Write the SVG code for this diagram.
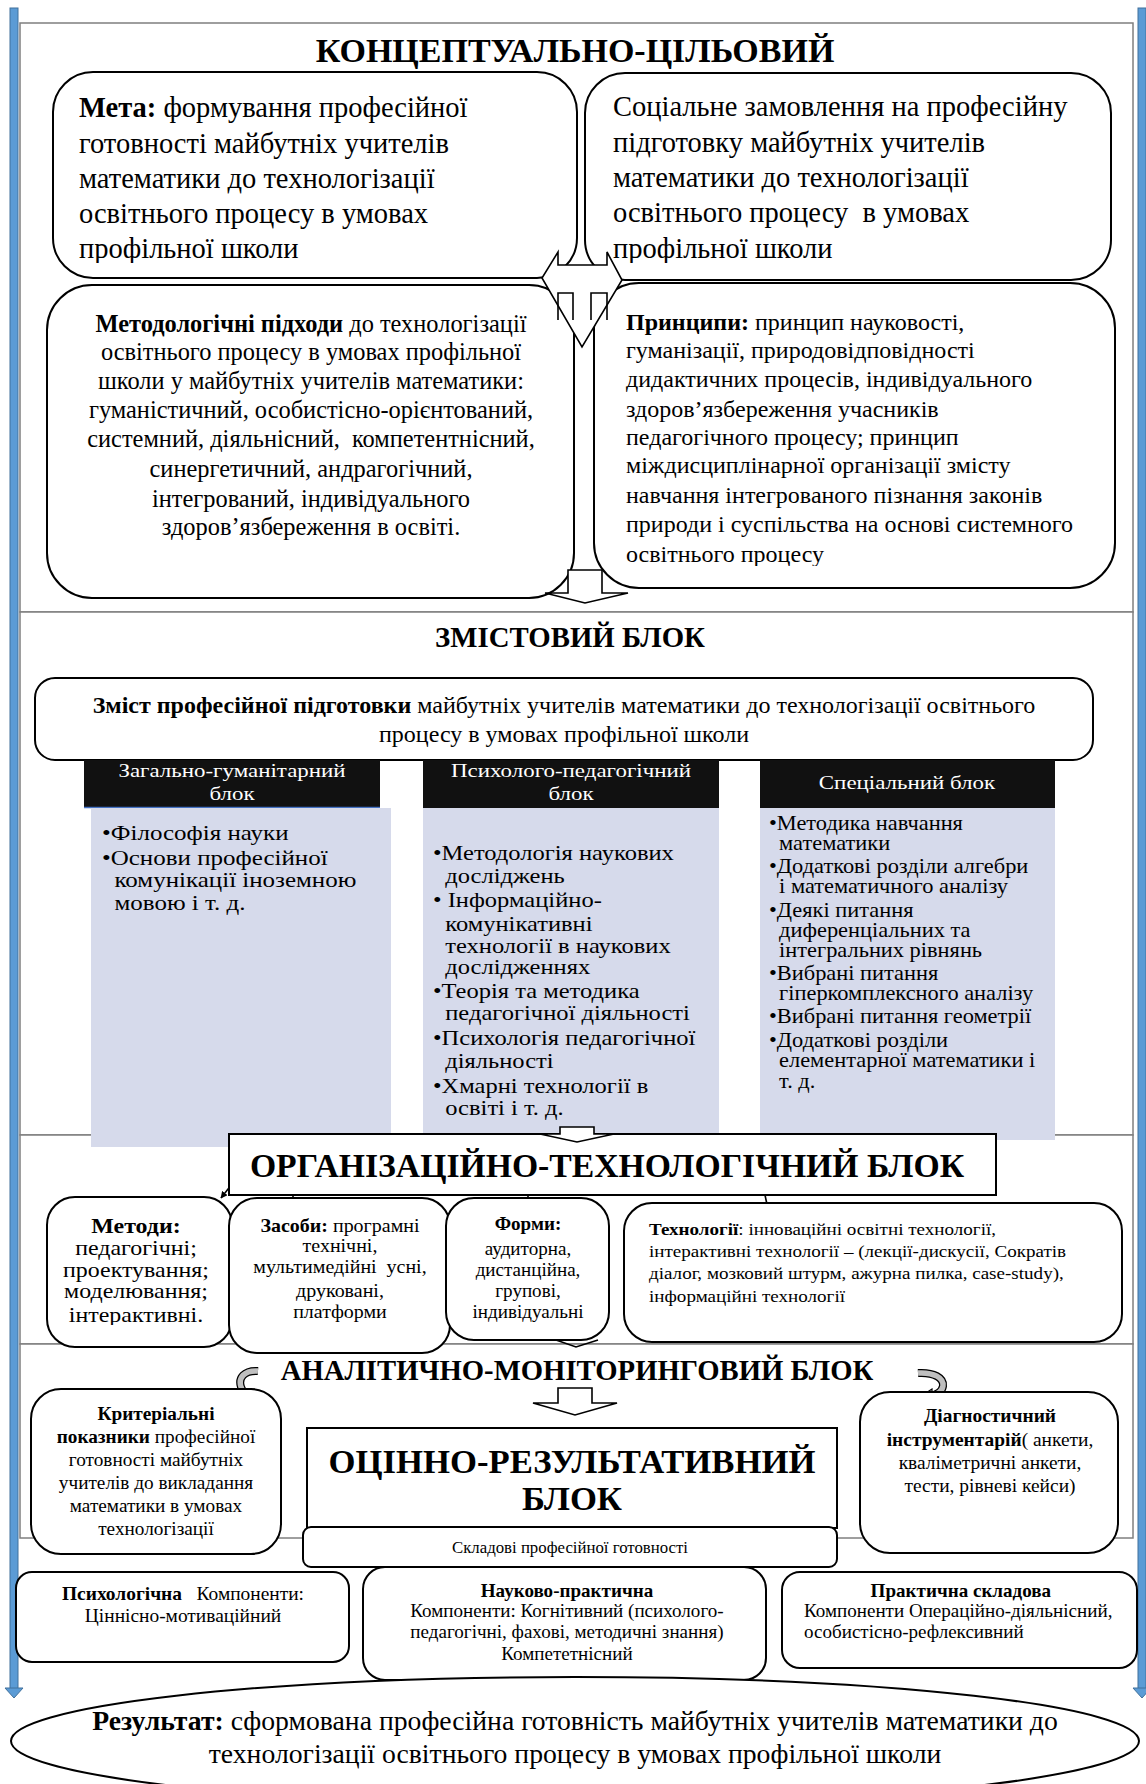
<svg xmlns="http://www.w3.org/2000/svg" width="1146" height="1784" viewBox="0 0 1146 1784">
<style>
text{font-family:"Liberation Serif","Times New Roman",serif;fill:#000}
.b{font-weight:bold}
.m{text-anchor:middle}
.pre{white-space:pre}
.box{fill:#fff;stroke:#000;stroke-width:2}
.sec{fill:#fff;stroke:#7f7f7f;stroke-width:1.5}
.lav{fill:#d6daeb}
.hdr{fill:#111}
.ht{fill:#fff;font-size:18.5px;text-anchor:middle}
.arw{fill:#fff;stroke:#000;stroke-width:1.6;stroke-linejoin:miter}
.ln{stroke:#000;stroke-width:1.6;fill:none}
.bar{fill:#5b9bd5;stroke:#41719c;stroke-width:1}
.f18{font-size:18px}
</style>
<defs>
<marker id="ah" viewBox="0 0 10 10" refX="9" refY="5" markerWidth="7" markerHeight="7" orient="auto" markerUnits="userSpaceOnUse"><path d="M0,0 L10,5 L0,10 z" fill="#000"/></marker>
<clipPath id="cTop"><rect x="40" y="60" width="1080" height="203"/></clipPath>
<clipPath id="cPr"><rect x="594" y="283" width="521" height="283"/></clipPath>
<clipPath id="cMet"><rect x="40" y="1190" width="200" height="135"/></clipPath>
<clipPath id="cKr"><rect x="25" y="1385" width="260" height="154"/></clipPath>
</defs>

<g id="sections">
<rect class="sec" x="20" y="23" width="1113" height="589"/>
<rect class="sec" x="20" y="612" width="1113" height="523"/>
<rect class="sec" x="20" y="1135" width="1113" height="209"/>
<rect class="sec" x="20" y="1344" width="1113" height="194"/>
</g>

<g id="side-arrows">
<rect class="bar" x="10" y="8" width="8" height="1682"/>
<polygon class="bar" points="5,1688 23,1688 14,1698"/>
<rect class="bar" x="1138" y="8" width="8" height="1682"/>
<polygon class="bar" points="1133,1688 1151,1688 1142,1698"/>
</g>

<g id="title-concept"><text class="b m" x="575" y="62" font-size="34">КОНЦЕПТУАЛЬНО-ЦІЛЬОВИЙ</text></g>

<g id="meta">
<rect class="box" x="53" y="72" width="524" height="206" rx="40"/>
<g font-size="28.5" clip-path="url(#cTop)">
<text x="79" y="117"><tspan class="b">Мета:</tspan> формування професійної</text>
<text x="79" y="153">готовності майбутніх учителів</text>
<text x="79" y="188">математики до технологізації</text>
<text x="79" y="223">освітнього процесу в умовах</text>
<text x="79" y="258">профільної школи</text>
</g>
</g>

<g id="social">
<rect class="box" x="585" y="73" width="526" height="207" rx="40"/>
<g font-size="28.5" clip-path="url(#cTop)">
<text x="613" y="116">Соціальне замовлення на професійну</text>
<text x="613" y="152">підготовку майбутніх учителів</text>
<text x="613" y="187">математики до технологізації</text>
<text class="pre" x="613" y="222">освітнього процесу  в умовах</text>
<text x="613" y="258">профільної школи</text>
</g>
</g>

<g id="method">
<rect class="box" x="47" y="285" width="527" height="313" rx="45"/>
<g class="m" font-size="24.4">
<text x="311" y="332"><tspan class="b">Методологічні підходи</tspan> до технологізації</text>
<text x="311" y="360">освітнього процесу в умовах профільної</text>
<text x="311" y="389">школи у майбутніх учителів математики:</text>
<text x="311" y="418">гуманістичний, особистісно-орієнтований,</text>
<text class="pre" x="311" y="447">системний, діяльнісний,  компетентнісний,</text>
<text x="311" y="477">синергетичний, андрагогічний,</text>
<text x="311" y="507">інтегрований, індивідуального</text>
<text x="311" y="535">здоров’язбереження в освіті.</text>
</g>
</g>

<g id="principles">
<rect class="box" x="594" y="283" width="521" height="305" rx="45"/>
<g font-size="24" clip-path="url(#cPr)">
<text x="626" y="330"><tspan class="b">Принципи:</tspan> принцип науковості,</text>
<text x="626" y="358">гуманізації, природовідповідності</text>
<text x="626" y="387">дидактичних процесів, індивідуального</text>
<text x="626" y="417">здоров’язбереження учасників</text>
<text x="626" y="445">педагогічного процесу; принцип</text>
<text x="626" y="473">міждисциплінарної організації змісту</text>
<text x="626" y="503">навчання інтегрованого пізнання законів</text>
<text x="626" y="532">природи і суспільства на основі системного</text>
<text x="626" y="562">освітнього процесу</text>
</g>
</g>

<g id="connectors">
<polygon class="arw" points="558,252 558,265 607,265 607,252 622,280 582,347 542,278"/>
<path class="ln" d="M558,320 V293 H573 V320 M591,320 V293 H607 V320"/>
<polygon class="arw" points="568,570 602,570 602,593 628,593 585,603 545,593 568,593"/>
<line class="ln" x1="232" y1="1184" x2="221" y2="1198" marker-end="url(#ah)"/>
<line class="ln" x1="293" y1="1195" x2="293" y2="1213" marker-end="url(#ah)"/>
<line class="ln" x1="528" y1="1195" x2="528" y2="1209" marker-end="url(#ah)"/>
<line class="ln" x1="765" y1="1195" x2="769" y2="1214" marker-end="url(#ah)"/>
<polygon class="arw" points="558,1388 592,1388 592,1403 617,1403 575,1415 533,1403 558,1403"/>
<path d="M258,1371 C244,1370 238,1378 241,1387 C243,1392 245,1395 248,1396" fill="none" stroke="#000" stroke-width="8"/>
<path d="M258,1371 C244,1370 238,1378 241,1387 C243,1392 245,1395 248,1396" fill="none" stroke="#bfbfbf" stroke-width="5.5"/>
<polygon points="246,1389 258,1398 246,1406" fill="#fff" stroke="#000" stroke-width="1.2"/>
<path d="M918,1373 C934,1372 944,1378 943,1386 C942,1392 936,1395 930,1396" fill="none" stroke="#000" stroke-width="8"/>
<path d="M918,1373 C934,1372 944,1378 943,1386 C942,1392 936,1395 930,1396" fill="none" stroke="#bfbfbf" stroke-width="5.5"/>
<polygon points="932,1389 920,1397 932,1405" fill="#fff" stroke="#000" stroke-width="1.2"/>
</g>

<g id="title-content"><text class="b m" x="570" y="647" font-size="28.8">ЗМІСТОВИЙ БЛОК</text></g>

<g id="content">
<rect class="box" x="35" y="678" width="1058" height="82" rx="20"/>
<g class="m" font-size="24">
<text x="564" y="713"><tspan class="b">Зміст професійної підготовки</tspan> майбутніх учителів математики до технологізації освітнього</text>
<text x="564" y="742">процесу в умовах профільної школи</text>
</g>
</g>

<g id="col-general">
<rect class="hdr" x="84" y="760" width="296" height="48"/>
<line x1="84" y1="807.5" x2="380" y2="807.5" stroke="#4472c4" stroke-width="1.5"/>
<g transform="matrix(1.24 0 0 1 -55.68 0)">
<text class="ht" x="232" y="777">Загально-гуманітарний</text>
<text class="ht" x="232" y="800">блок</text>
</g>
<rect class="lav" x="91" y="808" width="300" height="339"/>
<g font-size="22" transform="matrix(1.136 0 0 1 -13.87 0)">
<text x="102" y="840">•Філософія науки</text>
<text x="102" y="865">•Основи професійної</text>
<text x="113" y="887">комунікації іноземною</text>
<text x="113" y="910">мовою і т. д.</text>
</g>
</g>

<g id="col-psych">
<rect class="hdr" x="423" y="760" width="296" height="48"/>
<g transform="matrix(1.24 0 0 1 -137.04 0)">
<text class="ht" x="571" y="777">Психолого-педагогічний</text>
<text class="ht" x="571" y="800">блок</text>
</g>
<rect class="lav" x="423" y="808" width="296" height="326"/>
<g font-size="22" transform="matrix(1.115 0 0 1 -49.8 0)">
<text x="433" y="860">•Методологія наукових</text>
<text x="444" y="883">досліджень</text>
<text x="433" y="907">• Інформаційно-</text>
<text x="444" y="931">комунікативні</text>
<text x="444" y="953">технології в наукових</text>
<text x="444" y="974">дослідженнях</text>
<text x="433" y="998">•Теорія та методика</text>
<text x="444" y="1020">педагогічної діяльності</text>
<text x="433" y="1045">•Психологія педагогічної</text>
<text x="444" y="1068">діяльності</text>
<text x="433" y="1093">•Хмарні технології в</text>
<text x="444" y="1115">освіті і т. д.</text>
</g>
</g>

<g id="col-special">
<rect class="hdr" x="760" y="760" width="295" height="48"/>
<g transform="matrix(1.24 0 0 1 -217.68 0)">
<text class="ht" x="907" y="789">Спеціальний блок</text>
</g>
<rect class="lav" x="760" y="808" width="295" height="332"/>
<g font-size="20" transform="matrix(1.12 0 0 1 -92.28 0)">
<text x="769" y="830">•Методика навчання</text>
<text x="778" y="850">математики</text>
<text x="769" y="873">•Додаткові розділи алгебри</text>
<text x="778" y="893">і математичного аналізу</text>
<text x="769" y="917">•Деякі питання</text>
<text x="778" y="937">диференціальних та</text>
<text x="778" y="957">інтегральних рівнянь</text>
<text x="769" y="980">•Вибрані питання</text>
<text x="778" y="1000">гіперкомплексного аналізу</text>
<text x="769" y="1023">•Вибрані питання геометрії</text>
<text x="769" y="1047">•Додаткові розділи</text>
<text x="778" y="1067">елементарної математики і</text>
<text x="778" y="1088">т. д.</text>
</g>
</g>

<g id="org-title">
<rect class="box" x="229" y="1134" width="767" height="61"/>
<text class="b m" x="607" y="1177" font-size="33.7">ОРГАНІЗАЦІЙНО-ТЕХНОЛОГІЧНИЙ БЛОК</text>
<polygon class="arw" points="560,1127 594,1127 594,1134 614,1134 577,1142 540,1134 560,1134"/>
</g>

<g id="methods">
<rect class="box" x="47" y="1197" width="185" height="150" rx="28"/>
<g clip-path="url(#cMet)">
<g class="m" font-size="21" transform="matrix(1.14 0 0 1 -19.04 0)">
<text class="b" x="136" y="1233">Методи:</text>
<text x="136" y="1255">педагогічні;</text>
<text x="136" y="1277">проектування;</text>
<text x="136" y="1298">моделювання;</text>
<text x="136" y="1322">інтерактивні.</text>
</g>
</g>
</g>

<g id="means">
<rect class="box" x="229" y="1198" width="221" height="155" rx="28"/>
<g class="f18 m" transform="matrix(1.11 0 0 1 -37.4 0)">
<text x="340" y="1232"><tspan class="b">Засоби:</tspan> програмні</text>
<text x="340" y="1252">технічні,</text>
<text class="pre" x="340" y="1273">мультимедійні  усні,</text>
<text x="340" y="1297">друковані,</text>
<text x="340" y="1318">платформи</text>
</g>
</g>

<g id="forms">
<rect class="box" x="446" y="1198" width="163" height="142" rx="28"/>
<g class="f18 m" transform="matrix(1.06 0 0 1 -31.68 0)">
<text class="b" x="528" y="1230">Форми:</text>
<text x="528" y="1255">аудиторна,</text>
<text x="528" y="1276">дистанційна,</text>
<text x="528" y="1297">групові,</text>
<text x="528" y="1318">індивідуальні</text>
</g>
<polyline class="ln" points="556,1340 576,1347 598,1340"/>
</g>

<g id="technologies">
<rect class="box" x="624" y="1203" width="498" height="139" rx="28"/>
<g font-size="17.5" transform="matrix(1.09 0 0 1 -58.41 0)">
<text x="649" y="1235"><tspan class="b">Технології</tspan>: інноваційні освітні технології,</text>
<text x="649" y="1257">інтерактивні технології – (лекції-дискусії, Сократів</text>
<text x="649" y="1279">діалог, мозковий штурм, ажурна пилка, case-study),</text>
<text x="649" y="1302">інформаційні технології</text>
</g>
</g>

<g id="title-analytic"><text class="b m" x="577" y="1380" font-size="28.7">АНАЛІТИЧНО-МОНІТОРИНГОВИЙ БЛОК</text></g>

<g id="criteria">
<rect class="box" x="31" y="1389" width="250" height="165" rx="30"/>
<g clip-path="url(#cKr)">
<g class="f18 m" transform="matrix(1.07 0 0 1 -10.92 0)">
<text class="b" x="156" y="1420">Критеріальні</text>
<text x="156" y="1443"><tspan class="b">показники</tspan> професійної</text>
<text x="156" y="1466">готовності майбутніх</text>
<text x="156" y="1489">учителів до викладання</text>
<text x="156" y="1512">математики в умовах</text>
<text x="156" y="1535">технологізації</text>
</g>
</g>
</g>

<g id="evaluation">
<rect class="box" x="307" y="1428" width="530" height="100"/>
<text class="b m" x="572" y="1473" font-size="34.7">ОЦІННО-РЕЗУЛЬТАТИВНИЙ</text>
<text class="b m" x="572" y="1510" font-size="34.7">БЛОК</text>
</g>

<g id="components">
<rect class="box" x="303" y="1527" width="534" height="40" rx="8"/>
<text class="m" font-size="16.8" x="570" y="1553">Складові професійної готовності</text>
</g>

<g id="diagnostic">
<rect class="box" x="860" y="1392" width="258" height="161" rx="30"/>
<g class="f18 m" transform="matrix(1.08 0 0 1 -79.2 0)">
<text class="b" x="990" y="1422">Діагностичний</text>
<text x="990" y="1446"><tspan class="b">інструментарій</tspan>( анкети,</text>
<text x="990" y="1469">кваліметричні анкети,</text>
<text x="990" y="1492">тести, рівневі кейси)</text>
</g>
</g>

<g id="psychological">
<rect class="box" x="16" y="1572" width="333" height="90" rx="16"/>
<g class="f18 m" transform="matrix(1.08 0 0 1 -14.64 0)">
<text class="pre" x="183" y="1600"><tspan class="b">Психологічна</tspan>   Компоненти:</text>
<text x="183" y="1622">Ціннісно-мотиваційний</text>
</g>
</g>

<g id="scientific">
<rect class="box" x="363" y="1567" width="403" height="113" rx="22"/>
<g class="f18 m" transform="matrix(1.06 0 0 1 -34.02 0)">
<text class="b" x="567" y="1597">Науково-практична</text>
<text x="567" y="1617">Компоненти: Когнітивний (психолого-</text>
<text x="567" y="1638">педагогічні, фахові, методичні знання)</text>
<text x="567" y="1660">Компететнісний</text>
</g>
</g>

<g id="practical">
<rect class="box" x="782" y="1572" width="355" height="96" rx="18"/>
<g class="f18" transform="matrix(1.06 0 0 1 -48.24 0)">
<text class="b m" x="952" y="1597">Практична складова</text>
<text x="804" y="1617">Компоненти Операційно-діяльнісний,</text>
<text x="804" y="1638">особистісно-рефлексивний</text>
</g>
</g>

<g id="result">
<ellipse class="box" cx="575" cy="1741" rx="564" ry="64"/>
<g class="m" font-size="27.7">
<text x="575" y="1730"><tspan class="b">Результат:</tspan> сформована професійна готовність майбутніх учителів математики до</text>
<text x="575" y="1763">технологізації освітнього процесу в умовах профільної школи</text>
</g>
</g>
</svg>
